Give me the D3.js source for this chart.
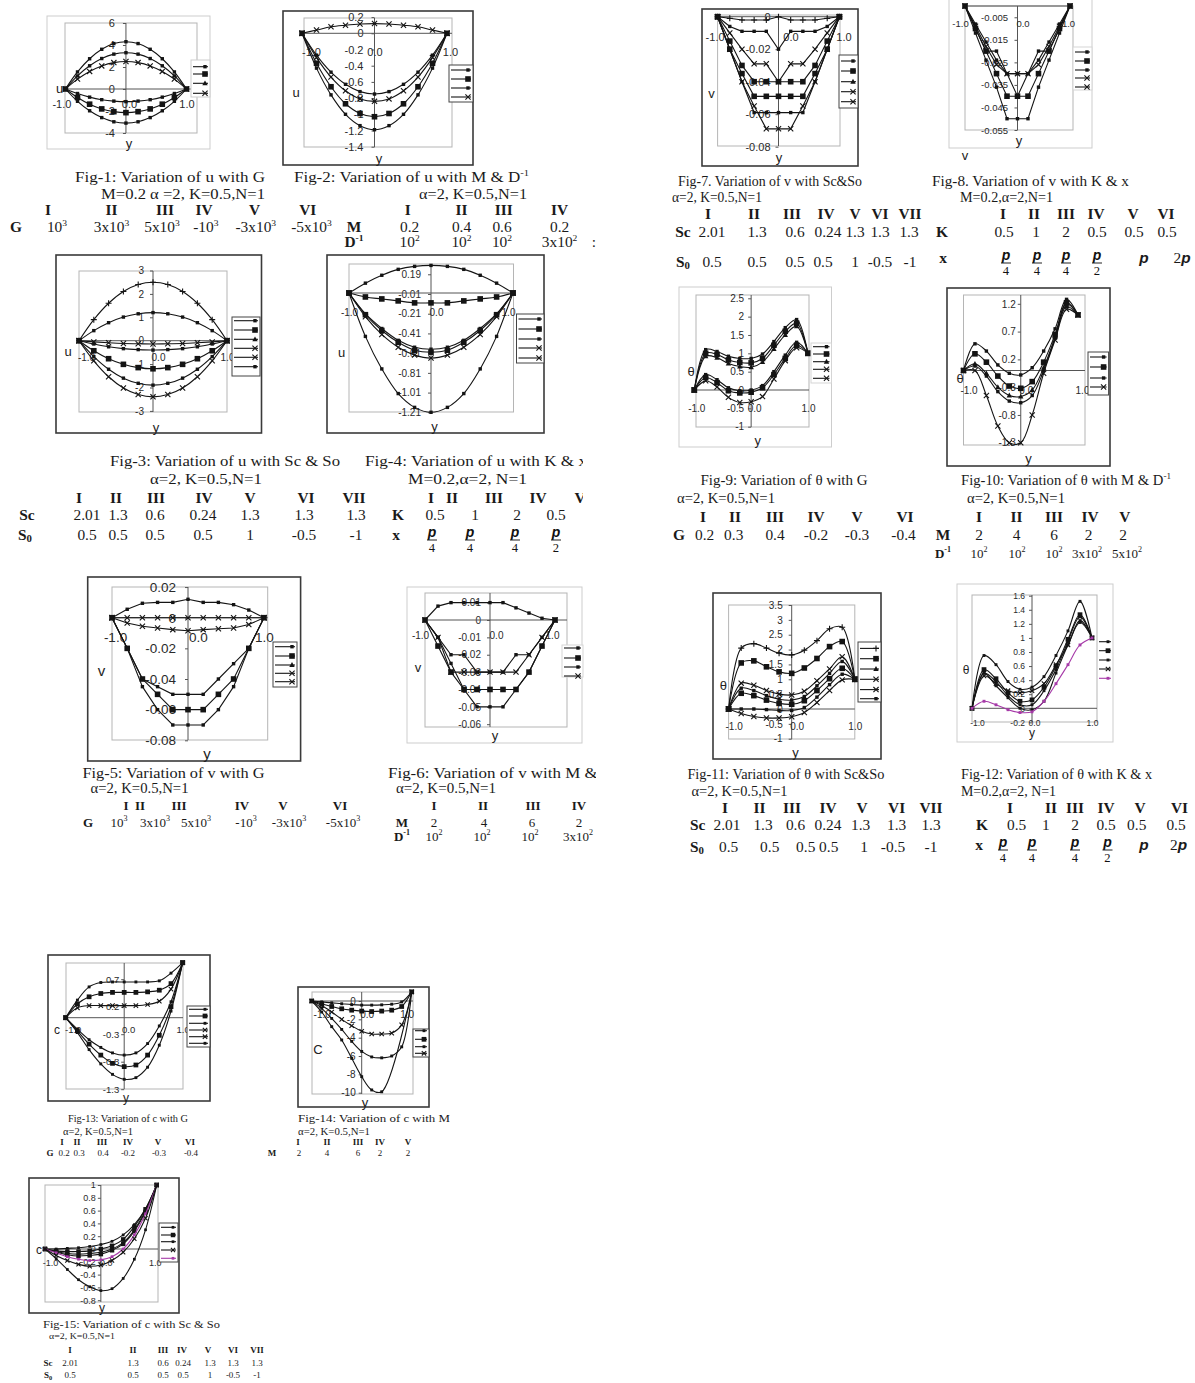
<!DOCTYPE html>
<html>
<head>
<meta charset="utf-8">
<script src="https://cdn.jsdelivr.net/npm/d3@7"></script>
<style>
  body { margin: 0; background: #fff; }
  svg { display: block; }
</style>
</head>
<body>
<svg id="page" width="1195" height="1383"></svg>
<script>
// ---------- data ----------
// sampling points across the channel (y), shared by every profile
const yCoord = [-1, -0.8, -0.6, -0.4, -0.2, 0, 0.2, 0.4, 0.6, 0.8, 1];
const xTickVals = [-1, 0, 1];
const xTickLabels = ['-1.0', '0.0', '1.0'];

// Fig-1: u vs y for G
const f1Values = [
  [0, 1.55, 2.75, 3.61, 4.13, 4.3, 4.13, 3.61, 2.75, 1.55, 0],
  [0, 1.19, 2.11, 2.77, 3.17, 3.3, 3.17, 2.77, 2.11, 1.19, 0],
  [0, 0.9, 1.6, 2.1, 2.4, 2.5, 2.4, 2.1, 1.6, 0.9, 0],
  [0, -0.41, -0.74, -0.97, -1.1, -1.15, -1.1, -0.97, -0.74, -0.41, 0],
  [0, -0.77, -1.38, -1.81, -2.06, -2.15, -2.06, -1.81, -1.38, -0.77, 0],
  [0, -1.12, -1.98, -2.6, -2.98, -3.1, -2.98, -2.6, -1.98, -1.12, 0]
];
const f1YTicks = [6, 4, 2, 0, -2, -4];
const f1Axis = ['u', 'y'];

// Fig-2: u vs y for M & D^-1
const f2Values = [
  [0, -0.27, -0.48, -0.63, -0.72, -0.75, -0.72, -0.63, -0.48, -0.27, 0],
  [0, -0.37, -0.66, -0.87, -0.99, -1.03, -0.99, -0.87, -0.66, -0.37, 0],
  [0, -0.43, -0.76, -1.0, -1.14, -1.19, -1.14, -1.0, -0.76, -0.43, 0],
  [0, -0.3, -0.54, -0.71, -0.81, -0.84, -0.81, -0.71, -0.54, -0.3, 0],
  [0, 0.04, 0.08, 0.1, 0.115, 0.12, 0.115, 0.1, 0.08, 0.04, 0]
];
const f2YTicks = [0.2, 0, -0.2, -0.4, -0.6, -0.8, -1, -1.2, -1.4];
const f2Axis = ['u', 'y'];

// Fig-3: u vs y for Sc & So
const f3Values = [
  [0, 0.9, 1.6, 2.1, 2.4, 2.5, 2.4, 2.1, 1.6, 0.9, 0],
  [0, 0.43, 0.77, 1.01, 1.15, 1.2, 1.15, 1.01, 0.77, 0.43, 0],
  [0, -0.05, -0.09, -0.12, -0.13, -0.14, -0.13, -0.12, -0.09, -0.05, 0],
  [0, -0.14, -0.26, -0.34, -0.38, -0.4, -0.38, -0.34, -0.26, -0.14, 0],
  [0, -0.43, -0.77, -1.01, -1.15, -1.2, -1.15, -1.01, -0.77, -0.43, 0],
  [0, -0.68, -1.22, -1.6, -1.82, -1.9, -1.82, -1.6, -1.22, -0.68, 0],
  [0, -0.86, -1.54, -2.02, -2.3, -2.4, -2.3, -2.02, -1.54, -0.86, 0]
];
const f3YTicks = [3, 2, 1, 0, -1, -2, -3];
const f3Axis = ['u', 'y'];

// Fig-4: u vs y for K & x
const f4Values = [
  [0, 0.1, 0.18, 0.24, 0.27, 0.28, 0.27, 0.24, 0.18, 0.1, 0],
  [0, -0.04, -0.06, -0.08, -0.1, -0.1, -0.1, -0.08, -0.06, -0.04, 0],
  [0, -0.21, -0.36, -0.48, -0.55, -0.57, -0.55, -0.48, -0.36, -0.21, 0],
  [0, -0.22, -0.38, -0.5, -0.58, -0.6, -0.58, -0.5, -0.38, -0.22, 0],
  [0, -0.24, -0.42, -0.55, -0.63, -0.66, -0.63, -0.55, -0.42, -0.24, 0],
  [0, -0.44, -0.77, -1.02, -1.16, -1.21, -1.16, -1.02, -0.77, -0.44, 0]
];
const f4YTicks = [0.19, -0.01, -0.21, -0.41, -0.61, -0.81, -1.01, -1.21];
const f4Axis = ['u', 'y'];

// Fig-5: v vs y for G
const f5Values = [
  [0, 0.0055, 0.0094, 0.01, 0.01, 0.012, 0.01, 0.01, 0.0085, 0.005, 0],
  [0, 0, 0, 0, 0, 0, 0, 0, 0, 0, 0],
  [0, -0.0035, -0.0056, -0.0067, -0.0078, -0.0085, -0.0078, -0.0072, -0.0067, -0.0045, 0],
  [0, -0.02, -0.04, -0.045, -0.05, -0.05, -0.05, -0.04, -0.03, -0.02, 0],
  [0, -0.02, -0.04, -0.05, -0.06, -0.06, -0.06, -0.05, -0.04, -0.02, 0],
  [0, -0.02, -0.045, -0.06, -0.07, -0.07, -0.07, -0.06, -0.045, -0.02, 0]
];
const f5YTicks = [0.02, 0, -0.02, -0.04, -0.06, -0.08];
const f5Axis = ['v', 'y'];

// Fig-6: v vs y for M & D^-1
const f6Values = [
  [0, 0.008, 0.01, 0.01, 0.01, 0.01, 0.01, 0.007, 0.004, 0.001, 0],
  [0, -0.01, -0.02, -0.02, -0.03, -0.03, -0.03, -0.02, -0.02, -0.01, 0],
  [0, -0.01, -0.03, -0.03, -0.03, -0.03, -0.03, -0.03, -0.02, -0.01, 0],
  [0, -0.015, -0.03, -0.04, -0.04, -0.04, -0.04, -0.04, -0.03, -0.015, 0],
  [0, -0.01, -0.025, -0.04, -0.05, -0.05, -0.05, -0.04, -0.03, -0.015, 0]
];
const f6YTicks = [0.01, 0, -0.01, -0.02, -0.03, -0.04, -0.05, -0.06];
const f6Axis = ['v', 'y'];

// Fig-7: v vs y for Sc & So
const f7Values = [
  [0, -0.001, -0.002, -0.002, -0.002, 0, -0.002, -0.002, -0.002, -0.001, 0],
  [0, -0.006, -0.009, -0.009, -0.009, -0.02, -0.009, -0.009, -0.009, -0.006, 0],
  [0, -0.01, -0.02, -0.029, -0.029, -0.04, -0.029, -0.029, -0.02, -0.01, 0],
  [0, -0.015, -0.03, -0.04, -0.04, -0.04, -0.04, -0.04, -0.03, -0.015, 0],
  [0, -0.02, -0.035, -0.049, -0.049, -0.049, -0.049, -0.049, -0.035, -0.02, 0],
  [0, -0.02, -0.04, -0.059, -0.059, -0.059, -0.059, -0.059, -0.04, -0.02, 0],
  [0, -0.02, -0.04, -0.055, -0.069, -0.069, -0.069, -0.055, -0.04, -0.02, 0]
];
const f7YTicks = [0, -0.02, -0.04, -0.06, -0.08];
const f7Axis = ['v', 'y'];

// Fig-8: v vs y for K & x
const f8Values = [
  [0, -0.01, -0.02, -0.02, -0.03, -0.03, -0.03, -0.02, -0.02, -0.01, 0],
  [0, -0.008, -0.016, -0.024, -0.03, -0.04, -0.03, -0.024, -0.016, -0.008, 0],
  [0, -0.01, -0.02, -0.03, -0.04, -0.04, -0.04, -0.03, -0.02, -0.01, 0],
  [0, -0.012, -0.024, -0.036, -0.05, -0.05, -0.05, -0.036, -0.024, -0.012, 0],
  [0, -0.009, -0.018, -0.026, -0.03, -0.03, -0.03, -0.026, -0.018, -0.009, 0]
];
const f8YTicks = [-0.005, -0.015, -0.025, -0.035, -0.045, -0.055];
const f8Axis = ['v', 'y'];

// Fig-9: theta vs y for G
const f9Values = [
  [0, 1.1, 1.05, 0.92, 0.86, 0.86, 0.98, 1.32, 1.7, 1.92, 1],
  [0, 1.0, 0.97, 0.82, 0.75, 0.74, 0.86, 1.22, 1.6, 1.82, 1],
  [0, 0.92, 0.88, 0.72, 0.64, 0.62, 0.76, 1.12, 1.5, 1.74, 1],
  [0, 0.42, 0.28, 0.06, -0.02, 0, 0.12, 0.5, 0.95, 1.3, 1],
  [0, 0.34, 0.2, -0.02, -0.08, -0.06, 0.06, 0.42, 0.86, 1.22, 1],
  [0, 0.25, 0.08, -0.2, -0.34, -0.32, -0.18, 0.3, 0.8, 1.15, 1]
];
const f9YTicks = [2.5, 2, 1.5, 1, 0.5, 0, -0.5, -1];
const f9Axis = ['θ', 'y'];

// Fig-10: theta vs y for M & D^-1
const f10Values = [
  [0, 0.48, 0.35, 0.1, -0.05, -0.08, 0.05, 0.35, 0.75, 1.28, 1],
  [0, 0.3, 0.15, -0.1, -0.28, -0.32, -0.2, 0.15, 0.65, 1.22, 1],
  [0, 0.12, -0.05, -0.3, -0.45, -0.47, -0.35, 0.05, 0.6, 1.2, 1],
  [0, 0.08, -0.1, -0.38, -0.55, -0.58, -0.45, 0, 0.58, 1.15, 1],
  [0, 0, -0.45, -1.0, -1.3, -1.3, -0.8, -0.05, 0.55, 1.1, 1]
];
const f10YTicks = [1.2, 0.7, 0.2, -0.3, -0.8, -1.3];
const f10Axis = ['θ', 'y'];

// Fig-11: theta vs y for Sc & So
const f11Values = [
  [0, 2.05, 2.2, 2.05, 1.88, 1.82, 1.98, 2.3, 2.7, 2.75, 1],
  [0, 1.55, 1.62, 1.42, 1.25, 1.2, 1.38, 1.7, 2.1, 2.27, 1],
  [0, 0.87, 0.8, 0.62, 0.5, 0.47, 0.6, 0.95, 1.35, 1.76, 1],
  [0, 0.7, 0.62, 0.45, 0.33, 0.3, 0.42, 0.78, 1.2, 1.6, 1],
  [0, 0.53, 0.45, 0.3, 0.19, 0.16, 0.28, 0.62, 1.02, 1.37, 1],
  [0, 0, 0, -0.02, -0.05, -0.05, 0.05, 0.4, 0.82, 1.17, 1],
  [0, -0.15, -0.25, -0.3, -0.3, -0.26, -0.12, 0.22, 0.62, 0.98, 1]
];
const f11YTicks = [3.5, 3, 2.5, 2, 1.5, 1, 0.5, 0, -0.5, -1];
const f11Axis = ['θ', 'y'];

// Fig-12: theta vs y for K & x
const f12Values = [
  [0, 0.75, 0.62, 0.38, 0.27, 0.3, 0.45, 0.75, 1.1, 1.52, 1],
  [0, 0.55, 0.42, 0.22, 0.1, 0.12, 0.3, 0.6, 0.98, 1.33, 1],
  [0, 0.5, 0.38, 0.18, 0.05, 0.05, 0.25, 0.55, 0.95, 1.3, 1],
  [0, 0.46, 0.35, 0.25, 0.22, 0.25, 0.35, 0.62, 0.9, 1.25, 1],
  [0, 0.5, 0.32, 0.15, 0, -0.02, 0.1, 0.5, 0.9, 1.22, 1],
  [0, 0.1, 0.05, -0.02, -0.06, -0.05, 0.1, 0.35, 0.62, 0.9, 1]
];
const f12YTicks = [1.6, 1.4, 1.2, 1, 0.8, 0.6, 0.4, 0.2, 0, -0.2];
const f12Axis = ['θ', 'y'];

// Fig-13: c vs y for G
const f13Values = [
  [0, 0.32, 0.56, 0.64, 0.65, 0.65, 0.65, 0.65, 0.67, 0.81, 1],
  [0, 0.25, 0.38, 0.44, 0.46, 0.46, 0.46, 0.47, 0.5, 0.62, 1],
  [0, 0.18, 0.22, 0.22, 0.22, 0.22, 0.22, 0.24, 0.3, 0.52, 1],
  [0, -0.21, -0.4, -0.54, -0.64, -0.68, -0.64, -0.47, -0.15, 0.29, 1],
  [0, -0.24, -0.48, -0.68, -0.83, -0.89, -0.86, -0.68, -0.32, 0.2, 1],
  [0, -0.27, -0.58, -0.84, -1.03, -1.12, -1.09, -0.9, -0.5, 0.12, 1]
];
const f13YTicks = [0.7, 0.2, -0.3, -0.8, -1.3];
const f13Axis = ['c', 'y'];

// Fig-14: c vs y for M
const f14Values = [
  [0, -0.1, -0.2, -0.3, -0.4, -0.45, -0.45, -0.42, -0.35, -0.1, 1],
  [0, -0.3, -0.6, -0.85, -1.0, -1.1, -1.15, -1.1, -1.0, -0.6, 1],
  [0, -0.5, -1.2, -2.0, -2.7, -3.3, -3.6, -3.6, -3.5, -2.6, 1],
  [0, -0.8, -1.9, -3.1, -4.4, -5.5, -6.1, -6.2, -6.0, -5.0, 1],
  [0, -1.2, -2.8, -4.25, -6.25, -8.25, -9.7, -9.9, null, null, 1]
];
const f14YTicks = [0, -2, -4, -6, -8, -10];
const f14Axis = ['C', 'y'];

// Fig-15: c vs y for Sc & So
const f15Values = [
  [0, 0, 0.01, 0.02, 0.04, 0.07, 0.12, 0.22, 0.38, 0.63, 1],
  [0, -0.03, -0.04, -0.04, -0.03, 0, 0.05, 0.15, 0.35, 0.62, 1],
  [0, -0.04, -0.07, -0.08, -0.07, -0.05, 0, 0.1, 0.3, 0.6, 1],
  [0, -0.05, -0.09, -0.11, -0.1, -0.08, -0.02, 0.08, 0.28, 0.58, 1],
  [0, -0.06, -0.12, -0.16, -0.18, -0.17, -0.12, 0, 0.22, 0.55, 1],
  [0, -0.1, -0.18, -0.24, -0.27, -0.25, -0.18, -0.05, 0.16, 0.48, 1],
  [0, -0.15, -0.32, -0.48, -0.59, -0.65, -0.62, -0.46, -0.16, 0.3, 1]
];
const f15YTicks = [1, 0.8, 0.6, 0.4, 0.2, 0, -0.2, -0.4, -0.6, -0.8];
const f15Axis = ['c', 'y'];

// caption texts
const cap1 = ['Fig-1: Variation of u with G', 'M=0.2 α =2, K=0.5,N=1'];
const cap2 = ['Fig-2: Variation of u with M & D^-1', 'α=2, K=0.5,N=1'];
const cap3 = ['Fig-3: Variation of u with Sc & So', 'α=2, K=0.5,N=1'];
const cap4 = ['Fig-4: Variation of u with K & x', 'M=0.2,α=2, N=1'];
const cap5 = ['Fig-5: Variation of v with G', 'α=2, K=0.5,N=1'];
const cap6 = ['Fig-6: Variation of v with M & D^-1', 'α=2, K=0.5,N=1'];
const cap7 = ['Fig-7. Variation of v with Sc&So', 'α=2, K=0.5,N=1'];
const cap8 = ['Fig-8.  Variation of v with K & x', 'M=0.2,α=2,N=1'];
const cap9 = ['Fig-9: Variation of θ with G', 'α=2, K=0.5,N=1'];
const cap10 = ['Fig-10: Variation of θ with M & D^-1', 'α=2, K=0.5,N=1'];
const cap11 = ['Fig-11: Variation of θ with Sc&So', 'α=2, K=0.5,N=1'];
const cap12 = ['Fig-12: Variation of θ with K & x', 'M=0.2,α=2, N=1'];
const cap13 = ['Fig-13: Variation of c with G', 'α=2, K=0.5,N=1'];
const cap14 = ['Fig-14: Variation of c with M', 'α=2, K=0.5,N=1'];
const cap15 = ['Fig-15: Variation of c with Sc & So', 'α=2, K=0.5,N=1'];

// parameter tables under the figures
const roman6 = ['I', 'II', 'III', 'IV', 'V', 'VI'];
const roman7 = ['I', 'II', 'III', 'IV', 'V', 'VI', 'VII'];
const roman4 = ['I', 'II', 'III', 'IV'];
const roman5 = ['I', 'II', 'III', 'IV', 'V'];
const rowG3 = ['G', '10^3', '3x10^3', '5x10^3', '-10^3', '-3x10^3', '-5x10^3'];
const rowM2 = ['M', '0.2', '0.4', '0.6', '0.2'];
const rowD2 = ['D^-1', '10^2', '10^2', '10^2', '3x10^2', ':'];
const rowSc = ['Sc', '2.01', '1.3', '0.6', '0.24', '1.3', '1.3', '1.3'];
const rowSo = ['S_0', '0.5', '0.5', '0.5', '0.5', '1', '-0.5', '-1'];
const rowK4 = ['K', '0.5', '1', '2', '0.5'];
const rowX4 = ['x', 'p/4', 'p/4', 'p/4', 'p/2'];
const rowM6 = ['M', '2', '4', '6', '2'];
const rowD6 = ['D^-1', '10^2', '10^2', '10^2', '3x10^2'];
const rowK6 = ['K', '0.5', '1', '2', '0.5', '0.5', '0.5'];
const rowX6 = ['x', 'p/4', 'p/4', 'p/4', 'p/2', 'p', '2p'];
const rowGs = ['G', '0.2', '0.3', '0.4', '-0.2', '-0.3', '-0.4'];
const rowM10 = ['M', '2', '4', '6', '2', '2'];
const rowD10 = ['D^-1', '10^2', '10^2', '10^2', '3x10^2', '5x10^2'];

// ---------- drawing ----------
const svg = d3.select('#page');
const SANS = "'Liberation Sans', Arial, sans-serif";
const SERIF = "'Liberation Serif', 'Times New Roman', serif";
const PURPLE = '#a63aa8';

const MARK = {
  sq: 'M-1.7,-1.7H1.7V1.7H-1.7Z',
  bsq: 'M-2.8,-2.8H2.8V2.8H-2.8Z',
  tri: 'M0,-2.9L2.7,2L-2.7,2Z',
  x: 'M-2.6,-2.6L2.6,2.6M-2.6,2.6L2.6,-2.6',
  plus: 'M-3,0H3M0,-3V3'
};

function drawMarker(g, type, cx, cy, col, s) {
  const p = g.append('path')
    .attr('transform', `translate(${cx},${cy}) scale(${s})`)
    .attr('d', MARK[type]);
  if (type === 'x' || type === 'plus') {
    p.attr('fill', 'none').attr('stroke', col).attr('stroke-width', 1.1 / s);
  } else {
    p.attr('fill', col).attr('stroke', 'none');
  }
}

// "3x10^3" -> superscript, "S_0" -> subscript
function addRich(t, str) {
  let m;
  if ((m = str.match(/^(.*)\^(.+)$/))) {
    t.append('tspan').text(m[1]);
    t.append('tspan').attr('dy', '-0.45em').attr('font-size', '0.62em').text(m[2]);
  } else if ((m = str.match(/^(.*)_(.+)$/))) {
    t.append('tspan').text(m[1]);
    t.append('tspan').attr('dy', '0.3em').attr('font-size', '0.7em').text(m[2]);
  } else {
    t.text(str);
  }
}

function drawFigure(L) {
  const g = svg.append('g');
  const x = d3.scaleLinear().domain([-1, 1]).range(L.xr);
  const y = d3.scaleLinear().domain(L.yd).range(L.yr);
  const ms = L.ms || 1;

  // chart frame and plot area
  const [bx0, by0, bx1, by1] = L.box;
  g.append('rect').attr('x', bx0).attr('y', by0)
    .attr('width', bx1 - bx0).attr('height', by1 - by0)
    .attr('fill', '#fff')
    .attr('stroke', L.dark ? '#3a3a3a' : '#cdcdcd')
    .attr('stroke-width', L.dark ? 1.6 : 1);
  const [px0, py0, px1, py1] = L.plot;
  g.append('rect').attr('x', px0).attr('y', py0)
    .attr('width', px1 - px0).attr('height', py1 - py0)
    .attr('fill', 'none').attr('stroke', '#b5b5b5').attr('stroke-width', 1);

  // vertical axis through y = 0
  const ya = g.append('g').attr('transform', `translate(${x(0)},0)`)
    .call(d3.axisLeft(y).tickValues(L.yTicks).tickFormat(d => String(d))
      .tickSizeInner(3).tickSizeOuter(0).tickPadding(L.yPad));
  ya.select('.domain').remove();
  ya.selectAll('.tick line').attr('stroke', '#555');
  ya.selectAll('.tick text').attr('font-family', SANS)
    .attr('font-size', L.tickFs).attr('fill', '#2a2a2a');
  g.append('line').attr('x1', x(0)).attr('x2', x(0))
    .attr('y1', py0).attr('y2', py1).attr('stroke', '#555').attr('stroke-width', 1);

  // horizontal axis at zero
  const xa = g.append('g').attr('transform', `translate(0,${y(0)})`)
    .call(d3.axisBottom(x).tickValues(xTickVals).tickFormat((d, i) => xTickLabels[i])
      .tickSizeInner(0).tickSizeOuter(0).tickPadding(L.xPad));
  xa.select('.domain').remove();
  xa.selectAll('.tick text').attr('dx', (d, i) => L.xDx[i])
    .attr('font-family', SANS).attr('font-size', L.tickFs).attr('fill', '#2a2a2a');
  g.append('line').attr('x1', px0).attr('x2', px1)
    .attr('y1', y(0)).attr('y2', y(0)).attr('stroke', '#555').attr('stroke-width', 1);

  // profiles
  const line = d3.line().x(d => x(d[0])).y(d => y(d[1]))
    .curve(L.smooth ? d3.curveCatmullRom.alpha(0.5) : d3.curveLinear);
  L.values.forEach((vals, si) => {
    const pts = yCoord.map((c, i) => [c, vals[i]]).filter(p => p[1] !== null);
    const col = (L.colors && L.colors[si]) || '#141414';
    g.append('path').attr('d', line(pts)).attr('fill', 'none')
      .attr('stroke', col).attr('stroke-width', 1.1);
    pts.forEach(p => drawMarker(g, L.marks[si], x(p[0]), y(p[1]), col, ms));
  });

  // legend key
  const [lx0, ly0, lx1, ly1] = L.legend;
  if (L.legendStroke) {
    g.append('rect').attr('x', lx0).attr('y', ly0)
      .attr('width', lx1 - lx0).attr('height', ly1 - ly0)
      .attr('fill', '#fff').attr('stroke', L.legendStroke).attr('stroke-width', 1);
  }
  L.legendYs.forEach((ly, i) => {
    const col = (L.legendColors && L.legendColors[i]) || '#141414';
    g.append('line').attr('x1', lx0 + 2).attr('x2', lx1 - 2)
      .attr('y1', ly).attr('y2', ly).attr('stroke', col).attr('stroke-width', 1.1);
    drawMarker(g, L.legendMarks[i], lx1 - 5, ly, col, ms);
  });

  // axis names
  L.axis.forEach((name, i) => {
    g.append('text').attr('x', L.axisPos[i][0]).attr('y', L.axisPos[i][1])
      .attr('text-anchor', 'middle').attr('dominant-baseline', 'central')
      .attr('font-family', SANS).attr('font-size', L.axisFs || 13)
      .attr('fill', '#222').text(name);
  });
}

function drawCaption(parent, str, x, y, w, fs) {
  const t = parent.append('text').attr('x', x).attr('y', y)
    .attr('dominant-baseline', 'central')
    .attr('font-family', SERIF).attr('font-size', fs).attr('fill', '#1a1a1a')
    .attr('textLength', w).attr('lengthAdjust', 'spacingAndGlyphs');
  addRich(t, str);
}

function drawFrac(parent, x, y, den, fs) {
  parent.append('text').attr('x', x).attr('y', y - 3)
    .attr('text-anchor', 'middle').attr('dominant-baseline', 'central')
    .attr('font-family', SANS).attr('font-weight', 'bold').attr('font-style', 'italic')
    .attr('font-size', fs).attr('fill', '#111').text('p');
  parent.append('line').attr('x1', x - 5).attr('x2', x + 5)
    .attr('y1', y + 5).attr('y2', y + 5).attr('stroke', '#222').attr('stroke-width', 1);
  parent.append('text').attr('x', x).attr('y', y + 13)
    .attr('text-anchor', 'middle').attr('dominant-baseline', 'central')
    .attr('font-family', SERIF).attr('font-size', fs * 0.9).attr('fill', '#111').text(den);
}

function drawRow(parent, items, xs, y, fs, k, bold) {
  items.forEach((s, i) => {
    const m = s.match(/^p\/(\d)$/);
    if (m) { drawFrac(parent, xs[i], y, m[1], fs); return; }
    const t = parent.append('text')
      .attr('transform', `translate(${xs[i]},${y}) scale(${k},1)`)
      .attr('text-anchor', 'middle').attr('dominant-baseline', 'central')
      .attr('font-family', SERIF).attr('font-size', fs).attr('fill', '#1a1a1a')
      .attr('font-weight', bold || i === 0 ? 'bold' : 'normal');
    if (s === 'p' || s === '2p') {
      if (s === '2p') t.append('tspan').attr('font-weight', 'normal').text('2');
      t.append('tspan').attr('font-family', SANS).attr('font-weight', 'bold')
        .attr('font-style', 'italic').text('p');
    } else {
      addRich(t, s);
    }
  });
}

// ---------- figure layouts ----------
const figures = [
  { values: f1Values, marks: ['sq', 'sq', 'x', 'sq', 'bsq', 'sq'], smooth: true, dark: false,
    box: [47, 16, 210, 149], plot: [65, 23, 197, 133], xr: [65.4, 186.5], yd: [0, 6], yr: [89, 23],
    yTicks: f1YTicks, tickFs: 11, yPad: 8, xPad: 11, xDx: [-4, 3, 0],
    axis: f1Axis, axisPos: [[59.6, 88], [129, 143]],
    legend: [191, 60, 210, 97], legendStroke: '#cdcdcd', legendYs: [66.7, 74, 83.3, 93.3],
    legendMarks: ['sq', 'bsq', 'tri', 'x'] },
  { values: f2Values, marks: ['sq', 'bsq', 'sq', 'x', 'x'], smooth: true, dark: true,
    box: [283, 11, 473, 165], plot: [304, 18, 452, 147], xr: [302, 447], yd: [0, -1.4], yr: [33.3, 146.7],
    yTicks: f2YTicks, tickFs: 11, yPad: 8, xPad: 15, xDx: [9, 0, 3],
    axis: f2Axis, axisPos: [[296, 92], [379, 158]],
    legend: [449, 65, 473, 102], legendStroke: '#444', legendYs: [70, 79, 88, 97],
    legendMarks: ['sq', 'bsq', 'sq', 'x'] },
  { values: f3Values, marks: ['plus', 'sq', 'x', 'sq', 'bsq', 'sq', 'x'], smooth: true, dark: true,
    box: [56, 255, 261.5, 433], plot: [79, 271, 227, 412], xr: [79, 227], yd: [0, 3], yr: [340.7, 270.5],
    yTicks: f3YTicks, tickFs: 10, yPad: 6, xPad: 13.7, xDx: [7, 5, 0],
    axis: f3Axis, axisPos: [[68, 351], [156, 427]],
    legend: [232, 317, 260, 376], legendStroke: '#444',
    legendYs: [320.7, 330, 339.3, 348.3, 357.3, 366.7],
    legendMarks: ['sq', 'bsq', 'tri', 'x', 'x', 'sq'] },
  { values: f4Values, marks: ['sq', 'bsq', 'sq', 'bsq', 'x', 'sq'], smooth: true, dark: true,
    box: [327, 255, 544, 433], plot: [349, 264, 513.5, 412], xr: [349, 513], yd: [-0.01, -1.21], yr: [294, 412.3],
    yTicks: f4YTicks, tickFs: 10, yPad: 7, xPad: 15.5, xDx: [0, 5, -5],
    axis: f4Axis, axisPos: [[341.5, 352], [434.6, 426]],
    legend: [516.5, 314, 544, 363], legendStroke: '#444', legendYs: [319, 329, 339, 348, 358],
    legendMarks: ['sq', 'bsq', 'sq', 'x', 'x'] },
  { values: f5Values, marks: ['sq', 'x', 'x', 'sq', 'bsq', 'sq'], smooth: false, dark: true,
    box: [87.7, 577, 300.6, 761], plot: [112, 587, 267.7, 740], xr: [112, 264], yd: [0, -0.08], yr: [617.7, 740.3],
    yTicks: f5YTicks, tickFs: 13.5, yPad: 9, xPad: 14.3, xDx: [3, 10, 0],
    axis: f5Axis, axisPos: [[101.5, 670], [207, 753]], axisFs: 15,
    legend: [273, 642, 297, 687], legendStroke: '#444', legendYs: [646.7, 656, 665, 673.3, 681.7],
    legendMarks: ['sq', 'bsq', 'tri', 'x', 'x'] },
  { values: f6Values, marks: ['sq', 'sq', 'x', 'bsq', 'sq'], smooth: false, dark: false,
    box: [407, 587, 582, 743], plot: [425, 593, 567, 727], xr: [425, 555], yd: [0, -0.06], yr: [620, 724.2],
    yTicks: f6YTicks, tickFs: 10, yPad: 6, xPad: 11.5, xDx: [-5, 6, -3],
    axis: f6Axis, axisPos: [[418, 667], [495, 735]],
    legend: [562, 645, 583, 677], legendStroke: '#d5d5d5', legendYs: [648, 658, 667, 676],
    legendMarks: ['sq', 'bsq', 'sq', 'x'] },
  { values: f7Values, marks: ['plus', 'sq', 'x', 'bsq', 'bsq', 'sq', 'x'], smooth: false, dark: true,
    box: [702, 9, 858, 166], plot: [717.6, 15, 840, 146], xr: [717.6, 839.4], yd: [0, -0.08], yr: [16.7, 146.7],
    yTicks: f7YTicks, tickFs: 11, yPad: 5, xPad: 16.4, xDx: [-3, 12, 4],
    axis: f7Axis, axisPos: [[711.4, 93], [779, 157]],
    legend: [839, 55, 858, 108], legendStroke: '#444', legendYs: [61, 71, 81.7, 91.7, 101.7],
    legendMarks: ['sq', 'bsq', 'tri', 'x', 'x'] },
  { values: f8Values, marks: ['sq', 'sq', 'bsq', 'sq', 'x'], smooth: false, dark: false,
    box: [949, -1, 1092, 148], plot: [965, 6, 1073, 130], xr: [965, 1070], yd: [0, -0.055], yr: [6, 130],
    yTicks: f8YTicks, tickFs: 9.5, yPad: 6.5, xPad: 14.7, xDx: [-5, 5, -2],
    axis: f8Axis, axisPos: [[965, 155], [1019, 140]],
    legend: [1073, 47, 1092, 90], legendStroke: '#d5d5d5', legendYs: [52, 61, 70, 78, 87],
    legendMarks: ['sq', 'bsq', 'sq', 'x', 'x'] },
  { values: f9Values, marks: ['sq', 'bsq', 'tri', 'sq', 'bsq', 'x'], smooth: true, dark: false,
    box: [679, 287, 831.5, 447], plot: [696, 295, 809, 427], xr: [694.3, 808], yd: [0, 2.5], yr: [390, 298.3],
    yTicks: f9YTicks, tickFs: 10, yPad: 4, xPad: 14.5, xDx: [2, 3, 0],
    axis: f9Axis, axisPos: [[691, 371], [757.7, 440]],
    legend: [811, 343, 831.5, 383], legendStroke: '#d5d5d5',
    legendYs: [346.7, 354, 361.7, 369.3, 378.3], legendMarks: ['sq', 'bsq', 'tri', 'x', 'x'] },
  { values: f10Values, marks: ['sq', 'bsq', 'tri', 'sq', 'x'], smooth: true, dark: true,
    box: [947, 288, 1110, 466], plot: [963.5, 295, 1085, 445], xr: [963.5, 1078], yd: [0, 1.2], yr: [370.5, 303.8],
    yTicks: f10YTicks, tickFs: 10, yPad: 2, xPad: 16, xDx: [5, 5, 4],
    axis: f10Axis, axisPos: [[960, 378], [1028.6, 458]],
    legend: [1088, 352, 1108.6, 395], legendStroke: '#444', legendYs: [357, 367, 378, 387],
    legendMarks: ['sq', 'bsq', 'sq', 'x'] },
  { values: f11Values, marks: ['plus', 'bsq', 'x', 'sq', 'bsq', 'sq', 'x'], smooth: true, dark: true,
    box: [713, 593, 881, 759], plot: [728.6, 605, 854.8, 739], xr: [728.6, 854.8], yd: [0, 3.5], yr: [709, 605],
    yTicks: f11YTicks, tickFs: 10, yPad: 6, xPad: 13.5, xDx: [5, 5, 0],
    axis: f11Axis, axisPos: [[723.4, 685], [795.5, 752]],
    legend: [858, 642, 881, 702], legendStroke: '#444',
    legendYs: [648.4, 658.7, 669, 679.3, 689.6, 698.7],
    legendMarks: ['plus', 'bsq', 'tri', 'x', 'x', 'sq'] },
  { values: f12Values, marks: ['sq', 'bsq', 'sq', 'x', 'sq', 'sq'], smooth: true, dark: false,
    colors: [null, null, null, null, null, PURPLE], ms: 0.85,
    box: [957, 584, 1113, 742], plot: [972, 595, 1097, 722], xr: [972, 1092], yd: [0, 1.6], yr: [708.3, 595.7],
    yTicks: f12YTicks, tickFs: 8.5, yPad: 4, xPad: 11.7, xDx: [5, 2, 0],
    axis: f12Axis, axisPos: [[966, 670], [1032, 733]], axisFs: 12,
    legend: [1097, 638, 1113, 682], legendStroke: null,
    legendYs: [641.7, 650.7, 660, 669, 678.3], legendMarks: ['sq', 'bsq', 'sq', 'x', 'sq'],
    legendColors: [null, null, null, null, PURPLE] },
  { values: f13Values, marks: ['sq', 'bsq', 'x', 'sq', 'bsq', 'sq'], smooth: true, dark: true, ms: 0.85,
    box: [48, 955, 210, 1101], plot: [66, 963, 183, 1089], xr: [65.7, 182.7], yd: [0, 1], yr: [1017.7, 962.7],
    yTicks: f13YTicks, tickFs: 9.5, yPad: 2, xPad: 9, xDx: [7, 4, 0],
    axis: f13Axis, axisPos: [[57, 1030], [126, 1098]], axisFs: 12,
    legend: [187, 1006, 210, 1047], legendStroke: '#444',
    legendYs: [1009.3, 1016, 1023.3, 1030, 1036.7, 1043.3],
    legendMarks: ['sq', 'bsq', 'sq', 'x', 'x', 'sq'] },
  { values: f14Values, marks: ['sq', 'bsq', 'x', 'sq', 'sq'], smooth: true, dark: true, ms: 0.85,
    box: [298, 987, 429, 1107], plot: [312, 992, 413, 1094], xr: [311.7, 411.7], yd: [0, -10], yr: [1001, 1092.7],
    yTicks: f14YTicks, tickFs: 10, yPad: 3, xPad: 10.3, xDx: [10, 5, -5],
    axis: f14Axis, axisPos: [[318, 1049], [365, 1102]], axisFs: 13,
    legend: [413, 1029, 429, 1057], legendStroke: '#444',
    legendYs: [1030.7, 1039.3, 1046.7, 1053.3], legendMarks: ['sq', 'bsq', 'sq', 'x'] },
  { values: f15Values, marks: ['sq', 'bsq', 'sq', 'bsq', 'sq', 'x', 'sq'], smooth: true, dark: true,
    colors: [null, null, null, null, PURPLE, null, null], ms: 0.8,
    box: [29, 1178, 179, 1313], plot: [45, 1185, 158, 1302], xr: [45, 156.7], yd: [0, 1], yr: [1249, 1185],
    yTicks: f15YTicks, tickFs: 9, yPad: 2, xPad: 10.8, xDx: [5, 5, -2],
    axis: f15Axis, axisPos: [[39, 1250], [102, 1308]], axisFs: 12,
    legend: [159, 1223, 178, 1262], legendStroke: '#444',
    legendYs: [1227.3, 1235, 1241.7, 1250, 1258.3], legendMarks: ['sq', 'bsq', 'sq', 'x', 'sq'],
    legendColors: [null, null, null, null, PURPLE] }
];

figures.forEach(drawFigure);

// ---------- captions and parameter tables ----------
const defs = svg.append('defs');
defs.append('clipPath').attr('id', 'clipFig4').append('rect')
  .attr('x', 300).attr('y', 440).attr('width', 283).attr('height', 120);
defs.append('clipPath').attr('id', 'clipFig6').append('rect')
  .attr('x', 370).attr('y', 760).attr('width', 226).attr('height', 90);

const txt = svg.append('g');
const txt4 = svg.append('g').attr('clip-path', 'url(#clipFig4)');
const txt6 = svg.append('g').attr('clip-path', 'url(#clipFig6)');
const FS = 14, K = 1.1;

// Fig-1 / Fig-2
drawCaption(txt, cap1[0], 75, 177, 190, FS);
drawCaption(txt, cap1[1], 101, 194, 164, FS);
drawCaption(txt, cap2[0], 294, 177, 235, FS);
drawCaption(txt, cap2[1], 419, 194, 108, FS);
drawRow(txt, roman6, [48, 111.5, 165, 204, 254.6, 307.7], 210, FS, K, true);
drawRow(txt, rowG3, [16, 57, 111.5, 162, 205.8, 255.8, 311.5], 227, FS, K);
drawRow(txt, roman4, [407.7, 461.5, 503.8, 559.6], 210, FS, K, true);
drawRow(txt, rowM2, [354, 409.6, 461.5, 502, 559.6], 227, FS, K);
drawRow(txt, rowD2, [354, 409.6, 461.5, 502, 559.6, 594], 242, FS, K);

// Fig-3 / Fig-4
drawCaption(txt, cap3[0], 110, 461, 230, FS);
drawCaption(txt, cap3[1], 150, 479, 112, FS);
drawRow(txt, roman7, [79, 116, 156, 204, 250, 306, 354], 498, FS, K, true);
drawRow(txt, rowSc, [27, 87, 118, 155, 203, 250, 304, 356], 515, FS, K);
drawRow(txt, rowSo, [25, 87, 118, 155, 203, 250, 304, 356], 535, FS, K);
drawCaption(txt4, cap4[0], 365, 461, 222, FS);
drawCaption(txt4, cap4[1], 408, 479, 119, FS);
drawRow(txt4, roman5, [431, 452, 494, 538, 580], 498, FS, K, true);
drawRow(txt4, rowK4, [398, 435, 475, 517, 556], 515, FS, K);
drawRow(txt4, rowX4, [396, 432, 470, 515, 556], 535, FS, K);

// Fig-5 / Fig-6
drawCaption(txt, cap5[0], 82.5, 773, 182, FS);
drawCaption(txt, cap5[1], 90.5, 788, 98, FS);
drawRow(txt, roman6, [126, 140, 179, 242, 283, 340], 805, 13, 1.0, true);
drawRow(txt, rowG3, [88, 119, 155, 196, 246, 289, 343], 822, 13, 1.0);
drawCaption(txt6, cap6[0], 388, 773, 235, FS);
drawCaption(txt6, cap6[1], 396, 788, 100, FS);
drawRow(txt6, roman4, [434, 483, 533, 579], 805, 13, 1.0, true);
drawRow(txt6, rowM6, [402, 434, 484, 532, 579], 822, 13, 1.0);
drawRow(txt6, rowD6, [402, 434, 482, 530, 578], 836, 13, 1.0);

// Fig-7 / Fig-8
drawCaption(txt, cap7[0], 678, 181, 184, FS);
drawCaption(txt, cap7[1], 672, 197, 90, FS);
drawRow(txt, roman7, [708, 754, 792, 826, 855, 880, 910], 214, FS, K, true);
drawRow(txt, rowSc, [683, 712, 757, 795, 828, 855, 880, 909], 232, FS, K);
drawRow(txt, rowSo, [683, 712, 757, 795, 823, 855, 880, 910], 262, FS, K);
drawCaption(txt, cap8[0], 932, 181, 197, FS);
drawCaption(txt, cap8[1], 960, 197, 93, FS);
drawRow(txt, roman6, [1003, 1034, 1066, 1096, 1133, 1166], 214, FS, K, true);
drawRow(txt, rowK6, [942, 1004, 1036, 1066, 1097, 1134, 1167], 232, FS, K);
drawRow(txt, rowX6, [943, 1006, 1037, 1066, 1097, 1144, 1182], 258, FS, K);

// Fig-9 / Fig-10
drawCaption(txt, cap9[0], 700.5, 480, 167, FS);
drawCaption(txt, cap9[1], 677, 498, 98, FS);
drawRow(txt, roman6, [703, 735, 775, 816, 857, 905], 517, FS, K, true);
drawRow(txt, rowGs, [679, 704.6, 733.7, 775, 816, 857, 903.5], 535, FS, K);
drawCaption(txt, cap10[0], 961, 480, 210, FS);
drawCaption(txt, cap10[1], 967, 498, 98, FS);
drawRow(txt, roman5, [979, 1016.6, 1054, 1090, 1124.7], 517, FS, K, true);
drawRow(txt, rowM10, [943, 979, 1016.6, 1054, 1088.7, 1123], 535, FS, K);
drawRow(txt, rowD10, [943, 979, 1017, 1054, 1087, 1127], 553, 13, 1.0);

// Fig-11 / Fig-12
drawCaption(txt, cap11[0], 687.4, 774, 197, FS);
drawCaption(txt, cap11[1], 691.5, 791, 96, FS);
drawRow(txt, roman7, [725, 759.5, 792, 828, 862, 896.6, 931], 808, FS, K, true);
drawRow(txt, rowSc, [697.7, 727, 763, 795.5, 828, 860.6, 896.6, 931], 825, FS, K);
drawRow(txt, rowSo, [697, 728.6, 769.7, 805.7, 828.7, 864, 893, 931], 847, FS, K);
drawCaption(txt, cap12[0], 961, 774, 191, FS);
drawCaption(txt, cap12[1], 961, 791, 95, FS);
drawRow(txt, roman6, [1010, 1051, 1075, 1106, 1140, 1179.5], 808, FS, K, true);
drawRow(txt, rowK6, [982, 1016.6, 1045.8, 1075, 1106, 1136.7, 1176], 825, FS, K);
drawRow(txt, rowX6, [979, 1003, 1032, 1075, 1107.5, 1144, 1178.5], 845, FS, K);

// Fig-13 / Fig-14
drawCaption(txt, cap13[0], 68, 1118, 120, 10);
drawCaption(txt, cap13[1], 63, 1131, 70, 10);
drawRow(txt, roman6, [62, 77, 102, 128, 158, 190], 1142, 9, 1.0, true);
drawRow(txt, rowGs, [50, 64, 79, 103, 128, 159, 191], 1153, 9, 1.0);
drawCaption(txt, cap14[0], 298, 1118, 152, 10);
drawCaption(txt, cap14[1], 298, 1131, 72, 10);
drawRow(txt, roman5, [298, 327, 358, 380, 408], 1142, 9, 1.0, true);
drawRow(txt, rowM10, [272, 299, 327, 358, 380, 408], 1153, 9, 1.0);

// Fig-15
drawCaption(txt, cap15[0], 43, 1325, 177, 9.5);
drawCaption(txt, cap15[1], 49, 1336, 66, 9);
drawRow(txt, roman7, [70, 133, 163, 182, 208, 233, 257], 1350, 9, 1.0, true);
drawRow(txt, rowSc, [48, 70, 133, 163, 183, 210, 233, 257], 1363, 9, 1.0);
drawRow(txt, rowSo, [48, 70, 133, 163, 183, 210, 233, 257], 1375, 9, 1.0);
</script>
</body>
</html>
